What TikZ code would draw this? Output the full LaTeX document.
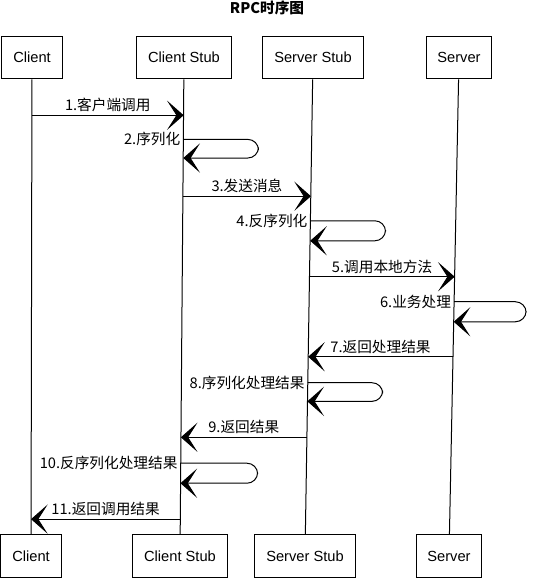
\documentclass[tikz,border=0pt]{standalone}
\usepackage{fontspec}
\setmainfont{Liberation Sans}
\newfontfamily\cjk{Noto Sans CJK SC}
\usetikzlibrary{arrows.meta,calc}

\begin{document}
\begin{tikzpicture}[x=0.75pt, y=-0.75pt,
        >={Stealth[length=12.5pt,width=22pt,inset=7pt]},
        obj/.style={draw, line width=0.75pt, minimum height=32pt, inner xsep=8.5pt,
            font=\fontsize{11}{13}\selectfont},
        msg/.style={->, line width=0.75pt},
        loop/.style={msg, rounded corners=8pt},
        lbl/.style={font=\cjk\fontsize{11}{13}\selectfont, inner sep=2pt}]
    \useasboundingbox (0,0) rectangle (535,581);
    \node[font=\cjk\bfseries\fontsize{11}{13}\selectfont] (title) at (267,8) {RPC时序图};

    \node[obj] (clt) at (32,57.5) {Client};
    \node[obj] (cst) at (184,57.5) {Client Stub};
    \node[obj] (sst) at (313,57.5) {Server Stub};
    \node[obj] (svt) at (459,57.5) {Server};
    \node[obj] (clb) at (31,556) {Client};
    \node[obj] (csb) at (180,556) {Client Stub};
    \node[obj] (ssb) at (305,556) {Server Stub};
    \node[obj] (svb) at (449,556) {Server};

    \foreach \l in {cl,cs,ss,sv}{
        \draw[line width=0.75pt] (\l t) -- (\l b);
        \foreach \n/\f in {1/0.079, 2/0.132, 3/0.173, 4/0.257, 5/0.311, 6/0.355, 7/0.434, 8/0.489,
                9/0.533, 10/0.610, 11/0.667, 12/0.708, 13/0.787, 14/0.844, 15/0.888, 16/0.967}
            \coordinate (\l\n) at ($(\l t.south)!\f!(\l b.north)$);
    }

    \draw[msg] (cl1) -- node[lbl, above] {1.客户端调用} (cs1);
    \draw[loop] (cs2) node[lbl, left] {2.序列化} -- ++(75,0) |- (cs3);
    \draw[msg] (cs4) -- node[lbl, above] {3.发送消息} (ss4);
    \draw[loop] (ss5) node[lbl, left] {4.反序列化} -- ++(75,0) |- (ss6);
    \draw[msg] (ss7) -- node[lbl, above] {5.调用本地方法} (sv7);
    \draw[loop] (sv8) node[lbl, left] {6.业务处理} -- ++(72,0) |- (sv9);
    \draw[msg] (sv10) -- node[lbl, above] {7.返回处理结果} (ss10);
    \draw[loop] (ss11) node[lbl, left] {8.序列化处理结果} -- ++(75,0) |- (ss12);
    \draw[msg] (ss13) -- node[lbl, above] {9.返回结果} (cs13);
    \draw[loop] (cs14) node[lbl, left] {10.反序列化处理结果} -- ++(77,0) |- (cs15);
    \draw[msg] (cs16) -- node[lbl, above] {11.返回调用结果} (cl16);
\end{tikzpicture}
\end{document}
